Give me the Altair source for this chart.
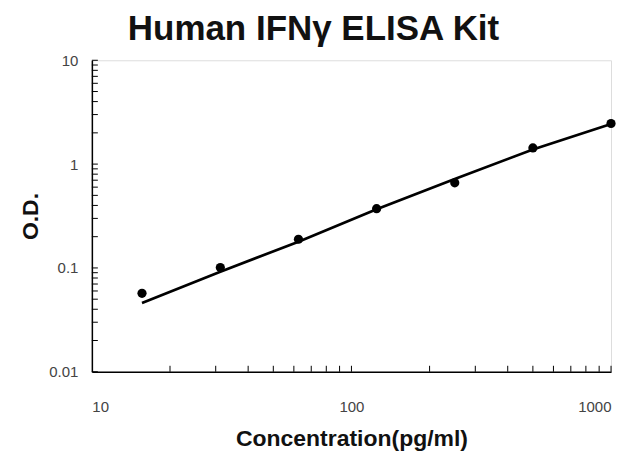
import altair as alt
import pandas as pd

conc = [15.6, 31.25, 62.5, 125, 250, 500, 1000]
od = [0.057, 0.101, 0.189, 0.372, 0.66, 1.43, 2.46]
fit_od = [0.046, 0.092, 0.179, 0.367, 0.72, 1.38, 2.43]

y_ticks = [0.01, 0.02, 0.03, 0.04, 0.05, 0.06, 0.07, 0.08, 0.09,
           0.1, 0.2, 0.3, 0.4, 0.5, 0.6, 0.7, 0.8, 0.9,
           1, 2, 3, 4, 5, 6, 7, 8, 9, 10]
x_ticks = [20, 30, 40, 50, 60, 70, 80, 90, 100,
           200, 300, 400, 500, 600, 700, 800, 900, 1000]
x_labels = [10, 100, 1000]
y_labels = [0.01, 0.1, 1, 10]

pts = pd.DataFrame({"conc": conc, "od": od})
fit = pd.DataFrame({"conc": conc, "od": fit_od})
yt = pd.DataFrame({"v": y_ticks})
xt = pd.DataFrame({"v": x_ticks})

xscale = alt.Scale(type="log", domain=[10, 1000])
yscale = alt.Scale(type="log", domain=[0.01, 10])

xaxis = alt.Axis(values=x_labels, format="~g", ticks=False, grid=False,
                 domainColor="black", domainWidth=1.5,
                 labelFont="Liberation Sans", labelFontSize=15, labelColor="#444",
                 labelPadding=28, title="Concentration(pg/ml)",
                 titleFont="Liberation Sans", titleFontSize=23, titleFontWeight="bold",
                 titleColor="#111", titlePadding=13)
yaxis = alt.Axis(values=y_labels, format="~g", ticks=False, grid=False,
                 domainColor="black", domainWidth=1.5,
                 labelFont="Liberation Sans", labelFontSize=15, labelColor="#444",
                 labelPadding=14, title="O.D.",
                 titleFont="Liberation Sans", titleFontSize=23, titleFontWeight="bold",
                 titleColor="#111", titlePadding=6)

line = alt.Chart(fit).mark_line(color="black", strokeWidth=2.7).encode(
    x=alt.X("conc:Q", scale=xscale, axis=xaxis),
    y=alt.Y("od:Q", scale=yscale, axis=yaxis),
)
dots = alt.Chart(pts).mark_circle(color="black", size=85, opacity=1).encode(
    x=alt.X("conc:Q", scale=xscale),
    y=alt.Y("od:Q", scale=yscale),
)
yt_rules = alt.Chart(yt).mark_rule(color="black", strokeWidth=1).encode(
    y=alt.Y("v:Q", scale=yscale),
    x=alt.value(0), x2=alt.value(6),
)
xt_rules = alt.Chart(xt).mark_rule(color="black", strokeWidth=1).encode(
    x=alt.X("v:Q", scale=xscale),
    y=alt.value(312), y2=alt.value(306),
)

chart = alt.layer(line, yt_rules, xt_rules, dots).properties(
    width=520, height=312,
    autosize=alt.AutoSizeParams(type="none"),
    padding={"left": 84, "top": 52, "right": 20, "bottom": 80},
    title=alt.TitleParams("Human IFNγ ELISA Kit", font="Liberation Sans",
                          fontSize=35, fontWeight="bold", color="#111", offset=6,
                          anchor="middle", dx=-38),
).configure_view(stroke=None).configure(background="white")

chart.save("out.html", embed_options={"renderer": "svg", "actions": False})
